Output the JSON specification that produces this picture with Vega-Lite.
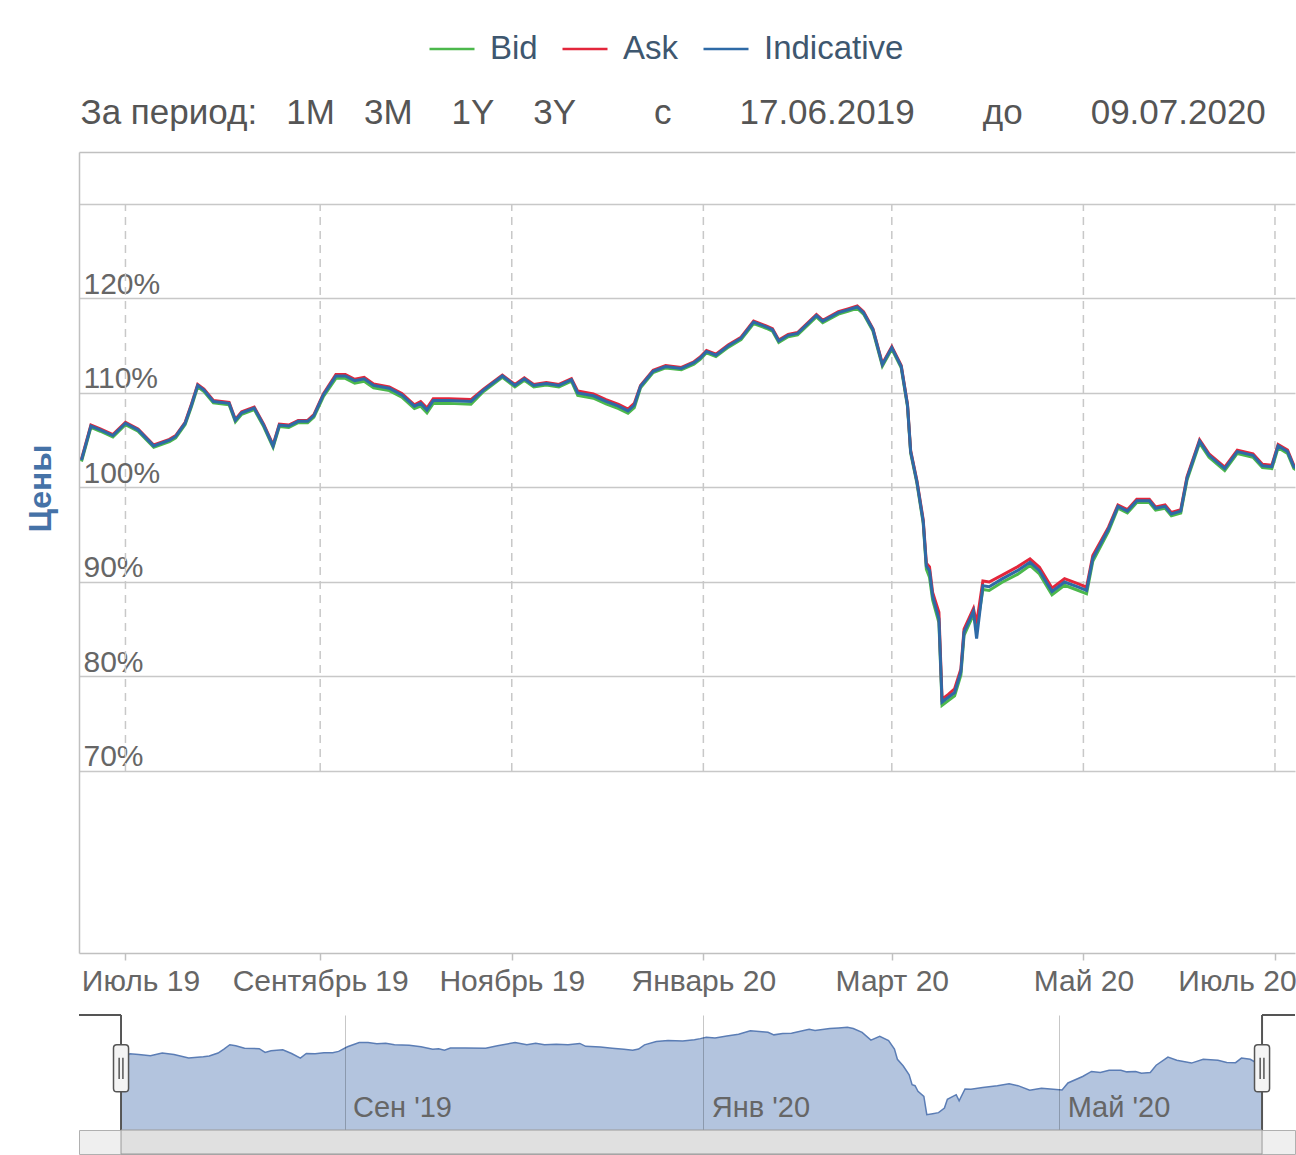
{
  "$schema": "https://vega.github.io/schema/vega-lite/v6.json",
  "background": "white",
  "padding": {"left": 24, "top": 25, "right": 0, "bottom": 0},
  "config": {"font": "Liberation Sans", "view": {"stroke": null}},
  "datasets": {
    "prices": [
      {"date":"2019-06-17","Bid":102.75,"Ask":103.0,"Indicative":102.9},
      {"date":"2019-06-20","Bid":106.35,"Ask":106.6,"Indicative":106.5},
      {"date":"2019-06-23","Bid":105.95,"Ask":106.2,"Indicative":106.1},
      {"date":"2019-06-27","Bid":105.35,"Ask":105.6,"Indicative":105.5},
      {"date":"2019-07-01","Bid":106.65,"Ask":106.9,"Indicative":106.8},
      {"date":"2019-07-05","Bid":105.95,"Ask":106.2,"Indicative":106.1},
      {"date":"2019-07-10","Bid":104.25,"Ask":104.5,"Indicative":104.4},
      {"date":"2019-07-15","Bid":104.85,"Ask":105.1,"Indicative":105.0},
      {"date":"2019-07-17","Bid":105.25,"Ask":105.5,"Indicative":105.4},
      {"date":"2019-07-20","Bid":106.65,"Ask":106.9,"Indicative":106.8},
      {"date":"2019-07-22","Bid":108.55,"Ask":108.8,"Indicative":108.7},
      {"date":"2019-07-24","Bid":110.65,"Ask":110.9,"Indicative":110.8},
      {"date":"2019-07-26","Bid":110.15,"Ask":110.4,"Indicative":110.3},
      {"date":"2019-07-29","Bid":108.95,"Ask":109.2,"Indicative":109.1},
      {"date":"2019-08-03","Bid":108.75,"Ask":109.0,"Indicative":108.9},
      {"date":"2019-08-05","Bid":106.95,"Ask":107.2,"Indicative":107.1},
      {"date":"2019-08-07","Bid":107.75,"Ask":108.0,"Indicative":107.9},
      {"date":"2019-08-11","Bid":108.25,"Ask":108.5,"Indicative":108.4},
      {"date":"2019-08-14","Bid":106.45,"Ask":106.7,"Indicative":106.6},
      {"date":"2019-08-17","Bid":104.25,"Ask":104.5,"Indicative":104.4},
      {"date":"2019-08-19","Bid":106.45,"Ask":106.7,"Indicative":106.6},
      {"date":"2019-08-22","Bid":106.35,"Ask":106.6,"Indicative":106.5},
      {"date":"2019-08-25","Bid":106.85,"Ask":107.1,"Indicative":107.0},
      {"date":"2019-08-28","Bid":106.85,"Ask":107.1,"Indicative":107.0},
      {"date":"2019-08-30","Bid":107.45,"Ask":107.7,"Indicative":107.6},
      {"date":"2019-09-02","Bid":109.6,"Ask":109.9,"Indicative":109.8},
      {"date":"2019-09-06","Bid":111.55,"Ask":111.95,"Indicative":111.8},
      {"date":"2019-09-09","Bid":111.55,"Ask":111.95,"Indicative":111.8},
      {"date":"2019-09-12","Bid":111.05,"Ask":111.45,"Indicative":111.3},
      {"date":"2019-09-15","Bid":111.25,"Ask":111.65,"Indicative":111.5},
      {"date":"2019-09-18","Bid":110.55,"Ask":110.95,"Indicative":110.8},
      {"date":"2019-09-23","Bid":110.25,"Ask":110.65,"Indicative":110.5},
      {"date":"2019-09-27","Bid":109.55,"Ask":109.95,"Indicative":109.8},
      {"date":"2019-10-01","Bid":108.35,"Ask":108.75,"Indicative":108.6},
      {"date":"2019-10-03","Bid":108.6,"Ask":109.1,"Indicative":108.9},
      {"date":"2019-10-05","Bid":107.9,"Ask":108.4,"Indicative":108.2},
      {"date":"2019-10-07","Bid":108.9,"Ask":109.4,"Indicative":109.2},
      {"date":"2019-10-12","Bid":108.9,"Ask":109.4,"Indicative":109.2},
      {"date":"2019-10-19","Bid":108.8,"Ask":109.3,"Indicative":109.1},
      {"date":"2019-10-23","Bid":110.15,"Ask":110.4,"Indicative":110.3},
      {"date":"2019-10-29","Bid":111.65,"Ask":111.9,"Indicative":111.8},
      {"date":"2019-11-02","Bid":110.65,"Ask":110.9,"Indicative":110.8},
      {"date":"2019-11-05","Bid":111.35,"Ask":111.6,"Indicative":111.5},
      {"date":"2019-11-08","Bid":110.65,"Ask":110.9,"Indicative":110.8},
      {"date":"2019-11-12","Bid":110.85,"Ask":111.1,"Indicative":111.0},
      {"date":"2019-11-16","Bid":110.65,"Ask":110.9,"Indicative":110.8},
      {"date":"2019-11-20","Bid":111.25,"Ask":111.5,"Indicative":111.4},
      {"date":"2019-11-22","Bid":109.75,"Ask":110.2,"Indicative":110.0},
      {"date":"2019-11-27","Bid":109.45,"Ask":109.9,"Indicative":109.7},
      {"date":"2019-12-01","Bid":108.85,"Ask":109.3,"Indicative":109.1},
      {"date":"2019-12-05","Bid":108.35,"Ask":108.8,"Indicative":108.6},
      {"date":"2019-12-08","Bid":107.85,"Ask":108.3,"Indicative":108.1},
      {"date":"2019-12-10","Bid":108.45,"Ask":108.9,"Indicative":108.7},
      {"date":"2019-12-12","Bid":110.55,"Ask":110.8,"Indicative":110.7},
      {"date":"2019-12-16","Bid":112.15,"Ask":112.4,"Indicative":112.3},
      {"date":"2019-12-20","Bid":112.65,"Ask":112.9,"Indicative":112.8},
      {"date":"2019-12-25","Bid":112.45,"Ask":112.7,"Indicative":112.6},
      {"date":"2019-12-29","Bid":113.05,"Ask":113.3,"Indicative":113.2},
      {"date":"2019-12-31","Bid":113.55,"Ask":113.8,"Indicative":113.7},
      {"date":"2020-01-02","Bid":114.25,"Ask":114.5,"Indicative":114.4},
      {"date":"2020-01-05","Bid":113.85,"Ask":114.1,"Indicative":114.0},
      {"date":"2020-01-09","Bid":114.85,"Ask":115.1,"Indicative":115.0},
      {"date":"2020-01-13","Bid":115.65,"Ask":115.9,"Indicative":115.8},
      {"date":"2020-01-17","Bid":117.35,"Ask":117.6,"Indicative":117.5},
      {"date":"2020-01-21","Bid":116.85,"Ask":117.1,"Indicative":117.0},
      {"date":"2020-01-23","Bid":116.55,"Ask":116.8,"Indicative":116.7},
      {"date":"2020-01-25","Bid":115.35,"Ask":115.6,"Indicative":115.5},
      {"date":"2020-01-28","Bid":115.95,"Ask":116.2,"Indicative":116.1},
      {"date":"2020-01-31","Bid":116.15,"Ask":116.4,"Indicative":116.3},
      {"date":"2020-02-06","Bid":118.05,"Ask":118.3,"Indicative":118.2},
      {"date":"2020-02-08","Bid":117.45,"Ask":117.7,"Indicative":117.6},
      {"date":"2020-02-13","Bid":118.35,"Ask":118.6,"Indicative":118.5},
      {"date":"2020-02-16","Bid":118.65,"Ask":118.9,"Indicative":118.8},
      {"date":"2020-02-19","Bid":118.95,"Ask":119.2,"Indicative":119.1},
      {"date":"2020-02-21","Bid":118.35,"Ask":118.6,"Indicative":118.5},
      {"date":"2020-02-24","Bid":116.55,"Ask":116.8,"Indicative":116.7},
      {"date":"2020-02-27","Bid":112.85,"Ask":113.1,"Indicative":113.0},
      {"date":"2020-03-01","Bid":114.65,"Ask":114.9,"Indicative":114.8},
      {"date":"2020-03-04","Bid":112.65,"Ask":112.9,"Indicative":112.8},
      {"date":"2020-03-06","Bid":108.55,"Ask":108.8,"Indicative":108.7},
      {"date":"2020-03-07","Bid":103.65,"Ask":103.9,"Indicative":103.8},
      {"date":"2020-03-09","Bid":100.45,"Ask":100.7,"Indicative":100.6},
      {"date":"2020-03-11","Bid":96.2,"Ask":96.6,"Indicative":96.4},
      {"date":"2020-03-12","Bid":91.35,"Ask":92.0,"Indicative":91.7},
      {"date":"2020-03-13","Bid":90.5,"Ask":91.6,"Indicative":91.2},
      {"date":"2020-03-14","Bid":88.1,"Ask":88.9,"Indicative":88.5},
      {"date":"2020-03-16","Bid":85.7,"Ask":86.8,"Indicative":86.1},
      {"date":"2020-03-17","Bid":76.95,"Ask":77.6,"Indicative":77.3},
      {"date":"2020-03-19","Bid":77.45,"Ask":78.1,"Indicative":77.8},
      {"date":"2020-03-21","Bid":77.95,"Ask":78.7,"Indicative":78.3},
      {"date":"2020-03-23","Bid":80.15,"Ask":80.8,"Indicative":80.5},
      {"date":"2020-03-24","Bid":84.35,"Ask":85.0,"Indicative":84.7},
      {"date":"2020-03-27","Bid":86.55,"Ask":87.2,"Indicative":86.9},
      {"date":"2020-03-28","Bid":85.0,"Ask":85.6,"Indicative":84.0},
      {"date":"2020-03-30","Bid":89.2,"Ask":90.1,"Indicative":89.6},
      {"date":"2020-04-01","Bid":89.1,"Ask":90.0,"Indicative":89.5},
      {"date":"2020-04-05","Bid":89.95,"Ask":90.7,"Indicative":90.3},
      {"date":"2020-04-10","Bid":90.8,"Ask":91.6,"Indicative":91.2},
      {"date":"2020-04-14","Bid":91.75,"Ask":92.45,"Indicative":92.1},
      {"date":"2020-04-17","Bid":90.85,"Ask":91.55,"Indicative":91.2},
      {"date":"2020-04-21","Bid":88.65,"Ask":89.35,"Indicative":89.0},
      {"date":"2020-04-25","Bid":89.65,"Ask":90.35,"Indicative":90.0},
      {"date":"2020-04-29","Bid":89.15,"Ask":89.85,"Indicative":89.5},
      {"date":"2020-05-02","Bid":88.75,"Ask":89.45,"Indicative":89.1},
      {"date":"2020-05-04","Bid":92.2,"Ask":92.8,"Indicative":92.5},
      {"date":"2020-05-09","Bid":95.35,"Ask":95.8,"Indicative":95.6},
      {"date":"2020-05-12","Bid":97.8,"Ask":98.15,"Indicative":98.0},
      {"date":"2020-05-15","Bid":97.3,"Ask":97.65,"Indicative":97.5},
      {"date":"2020-05-18","Bid":98.4,"Ask":98.75,"Indicative":98.6},
      {"date":"2020-05-22","Bid":98.4,"Ask":98.75,"Indicative":98.6},
      {"date":"2020-05-24","Bid":97.6,"Ask":97.95,"Indicative":97.8},
      {"date":"2020-05-27","Bid":97.8,"Ask":98.15,"Indicative":98.0},
      {"date":"2020-05-29","Bid":97.0,"Ask":97.35,"Indicative":97.2},
      {"date":"2020-06-01","Bid":97.3,"Ask":97.65,"Indicative":97.5},
      {"date":"2020-06-03","Bid":100.8,"Ask":101.15,"Indicative":101.0},
      {"date":"2020-06-07","Bid":104.7,"Ask":105.05,"Indicative":104.9},
      {"date":"2020-06-10","Bid":103.2,"Ask":103.55,"Indicative":103.4},
      {"date":"2020-06-15","Bid":101.8,"Ask":102.15,"Indicative":102.0},
      {"date":"2020-06-19","Bid":103.6,"Ask":103.95,"Indicative":103.8},
      {"date":"2020-06-24","Bid":103.2,"Ask":103.55,"Indicative":103.4},
      {"date":"2020-06-27","Bid":102.1,"Ask":102.45,"Indicative":102.3},
      {"date":"2020-06-30","Bid":102.0,"Ask":102.35,"Indicative":102.2},
      {"date":"2020-07-02","Bid":104.2,"Ask":104.55,"Indicative":104.4},
      {"date":"2020-07-05","Bid":103.6,"Ask":103.95,"Indicative":103.8},
      {"date":"2020-07-07","Bid":102.0,"Ask":102.35,"Indicative":102.2},
      {"date":"2020-07-09","Bid":101.6,"Ask":101.95,"Indicative":101.8}
    ],
    "months": [
      {"month":"2019-07-01"},{"month":"2019-09-01"},{"month":"2019-11-01"},
      {"month":"2020-01-01"},{"month":"2020-03-01"},{"month":"2020-05-01"},{"month":"2020-07-01"}
    ],
    "range": [{"from":"2019-06-17","to":"2020-07-09"}]
  },
  "vconcat": [
    {
      "width": 1216,
      "height": 801,
      "layer": [
        {
          "data": {"name": "months"},
          "mark": {"type": "rule", "color": "#c8c8c8", "strokeWidth": 1.5, "strokeDash": [8, 6]},
          "encoding": {
            "x": {
              "field": "month", "type": "temporal",
              "scale": {"type": "utc", "domain": [{"year":2019,"month":6,"date":16,"hours":5,"utc":true},{"year":2020,"month":7,"date":7,"hours":9,"utc":true}]},
              "axis": {
                "orient": "bottom", "title": null,
                "values": [{"year":2019,"month":7,"date":1,"utc":true},{"year":2019,"month":9,"date":1,"utc":true},{"year":2019,"month":11,"date":1,"utc":true},{"year":2020,"month":1,"date":1,"utc":true},{"year":2020,"month":3,"date":1,"utc":true},{"year":2020,"month":5,"date":1,"utc":true},{"year":2020,"month":7,"date":1,"utc":true}],
                "labelExpr": "['Январь','Февраль','Март','Апрель','Май','Июнь','Июль','Август','Сентябрь','Октябрь','Ноябрь','Декабрь'][utcmonth(datum.value)] + ' ' + utcFormat(datum.value, '%y')",
                "grid": false, "domain": true, "domainColor": "#c0c0c0", "domainWidth": 1.5,
                "ticks": true, "tickSize": 7, "tickColor": "#c0c0c0", "tickWidth": 1.5,
                "labelFontSize": 30, "labelColor": "#666666", "labelPadding": 30, "labelBaseline": "alphabetic",
                "labelOverlap": false, "labelFlush": false, "labelBound": false,
                "labelOffset": {"condition": [{"test": "utcyear(datum.value) == 2019 && utcmonth(datum.value) == 6", "value": 15}, {"test": "utcyear(datum.value) == 2020 && utcmonth(datum.value) == 6", "value": -38}], "value": 0}
              }
            },
            "y": {
              "datum": 70, "type": "quantitative", "scale": {"domain": [50.74, 135.5]},
              "axis": {
                "values": [70, 80, 90, 100, 110, 120, 130],
                "labelExpr": "datum.value >= 130 ? '' : datum.value + '%'",
                "grid": true, "gridColor": "#c8c8c8", "gridWidth": 1.5,
                "domain": true, "domainColor": "#c0c0c0", "domainWidth": 1.5,
                "ticks": false, "tickSize": 0,
                "labelAlign": "left", "labelBaseline": "alphabetic", "labelPadding": -4, "labelOffset": -5,
                "labelFontSize": 30, "labelColor": "#666666", "labelOverlap": false, "labelFlush": false, "labelBound": false,
                "title": "Цены", "titleFontSize": 32, "titleFontWeight": "bold", "titleColor": "#4572a7",
                "titleX": -39, "titleY": 336, "titleAngle": -90, "titleAlign": "center", "titleBaseline": "middle"
              }
            },
            "y2": {"datum": 130}
          }
        },
        {
          "data": {"name": "prices"},
          "transform": [{"fold": ["Bid", "Ask", "Indicative"], "as": ["series", "value"]}],
          "mark": {"type": "line", "strokeWidth": 3, "clip": true},
          "encoding": {
            "x": {
              "field": "date", "type": "temporal",
              "scale": {"type": "utc", "domain": [{"year":2019,"month":6,"date":16,"hours":5,"utc":true},{"year":2020,"month":7,"date":7,"hours":9,"utc":true}]},
              "axis": {
                "orient": "top", "labels": false, "ticks": false, "tickSize": 0, "grid": false,
                "domain": true, "domainColor": "#c0c0c0", "domainWidth": 1.5,
                "title": "За период:\u00a0\u00a0\u00a01M\u00a0\u00a0\u00a03M\u00a0\u00a0\u00a0\u00a01Y\u00a0\u00a0\u00a0\u00a03Y\u00a0\u00a0\u00a0\u00a0\u00a0\u00a0\u00a0\u00a0с\u00a0\u00a0\u00a0\u00a0\u00a0\u00a0\u00a017.06.2019\u00a0\u00a0\u00a0\u00a0\u00a0\u00a0\u00a0до\u00a0\u00a0\u00a0\u00a0\u00a0\u00a0\u00a009.07.2020",
                "titleX": 1, "titleY": -29, "titleAlign": "left", "titleAnchor": "start", "titleBaseline": "alphabetic",
                "titleAngle": 0, "titleFontSize": 35, "titleFontWeight": "normal", "titleColor": "#555555"
              }
            },
            "y": {
              "field": "value", "type": "quantitative",
              "scale": {"domain": [50.74, 135.5]},
              "axis": {
                "values": [70, 80, 90, 100, 110, 120, 130],
                "labelExpr": "datum.value >= 130 ? '' : datum.value + '%'",
                "grid": true, "gridColor": "#c8c8c8", "gridWidth": 1.5,
                "domain": true, "domainColor": "#c0c0c0", "domainWidth": 1.5,
                "ticks": false, "tickSize": 0,
                "labelAlign": "left", "labelBaseline": "alphabetic", "labelPadding": -4, "labelOffset": -5,
                "labelFontSize": 30, "labelColor": "#666666", "labelOverlap": false, "labelFlush": false, "labelBound": false,
                "title": "Цены", "titleFontSize": 32, "titleFontWeight": "bold", "titleColor": "#4572a7",
                "titleX": -39, "titleY": 336, "titleAngle": -90, "titleAlign": "center", "titleBaseline": "middle"
              }
            },
            "color": {
              "field": "series", "type": "nominal",
              "scale": {"domain": ["Bid", "Ask", "Indicative"], "range": ["#4cb84c", "#e3263b", "#2e6aa6"]},
              "legend": {
                "title": null, "orient": "none", "legendX": 349, "legendY": -127, "direction": "horizontal",
                "symbolType": "stroke", "symbolSize": 2025, "symbolStrokeWidth": 2.5,
                "labelFontSize": 33, "labelColor": "#3e576f", "labelOffset": 14, "columnPadding": 19, "padding": 0
              }
            }
          }
        }
      ],
      "resolve": {"axis": {"x": "independent"}}
    },
    {
      "vconcat": [
        {
          "width": 1216,
          "height": 115,
          "layer": [
            {
              "data": {"name": "prices"},
              "mark": {"type": "area", "color": "#b3c4de", "opacity": 1, "clip": true, "line": {"color": "#5b7db5", "strokeWidth": 1.5}},
              "encoding": {
                "x": {
                  "field": "date", "type": "temporal",
                  "scale": {"type": "utc", "domain": [{"year":2019,"month":6,"date":2,"hours":17,"utc":true},{"year":2020,"month":7,"date":20,"hours":5,"utc":true}]},
                  "axis": {
                    "title": null,
                    "values": [{"year":2019,"month":9,"date":1,"utc":true},{"year":2020,"month":1,"date":1,"utc":true},{"year":2020,"month":5,"date":1,"utc":true}],
                    "labelExpr": "['Янв','Фев','Мар','Апр','Май','Июн','Июл','Авг','Сен','Окт','Ноя','Дек'][utcmonth(datum.value)] + \" '\" + utcFormat(datum.value, '%y')",
                    "grid": true, "gridColor": "#000000", "gridOpacity": 0.22, "gridWidth": 1,
                    "domain": false, "ticks": false, "tickSize": 0,
                    "labelAlign": "left", "labelBaseline": "alphabetic", "labelPadding": -14, "labelOffset": 8,
                    "labelFontSize": 29, "labelColor": "#666666", "labelFlush": false, "labelOverlap": false, "labelBound": false,
                    "zindex": 1
                  }
                },
                "y": {"field": "Indicative", "type": "quantitative", "scale": {"domain": [70.2, 122.2]}, "axis": null}
              }
            },
            {
              "data": {"name": "range"},
              "mark": {"type": "rule", "color": "#555555", "strokeWidth": 2},
              "encoding": {"x": {"field": "from", "type": "temporal"}}
            },
            {
              "data": {"name": "range"},
              "mark": {"type": "rule", "color": "#555555", "strokeWidth": 2},
              "encoding": {"x": {"field": "to", "type": "temporal"}}
            },
            {
              "data": {"name": "range"},
              "mark": {"type": "rule", "color": "#555555", "strokeWidth": 2},
              "encoding": {"x": {"field": "from", "type": "temporal"}, "x2": {"value": 0}, "y": {"value": 0}}
            },
            {
              "data": {"name": "range"},
              "mark": {"type": "rule", "color": "#555555", "strokeWidth": 2},
              "encoding": {"x": {"field": "to", "type": "temporal"}, "x2": {"value": {"expr": "width"}}, "y": {"value": 0}}
            },
            {
              "data": {"name": "range"},
              "transform": [{"fold": ["from", "to"], "as": ["end", "at"]}],
              "mark": {"type": "point", "filled": true, "fill": "#f4f4f4", "stroke": "#555555", "strokeWidth": 1.5, "opacity": 1, "size": 2209,
                       "shape": "M-0.32,-0.86 Q-0.32,-1 -0.18,-1 L0.18,-1 Q0.32,-1 0.32,-0.86 L0.32,0.86 Q0.32,1 0.18,1 L-0.18,1 Q-0.32,1 -0.32,0.86 Z M-0.08,-0.45 L-0.08,0.45 M0.08,-0.45 L0.08,0.45"},
              "encoding": {"x": {"field": "at", "type": "temporal"}, "y": {"datum": 99.5, "type": "quantitative"}}
            }
          ]
        },
        {
          "width": 1216,
          "height": 24,
          "view": {"fill": "#efefef", "stroke": "#b0b0b0"},
          "data": {"name": "range"},
          "mark": {"type": "rect", "fill": "#e0e0e0", "stroke": "#9a9a9a", "strokeWidth": 1},
          "encoding": {
            "x": {"field": "from", "type": "temporal", "scale": {"type": "utc", "domain": [{"year":2019,"month":6,"date":2,"hours":17,"utc":true},{"year":2020,"month":7,"date":20,"hours":5,"utc":true}]}, "axis": null},
            "x2": {"field": "to"}
          }
        }
      ],
      "spacing": 0,
      "bounds": "flush"
    }
  ],
  "spacing": 62,
  "bounds": "flush",
  "resolve": {"scale": {"x": "independent", "y": "independent", "color": "independent"}, "legend": {"color": "independent"}}
}
